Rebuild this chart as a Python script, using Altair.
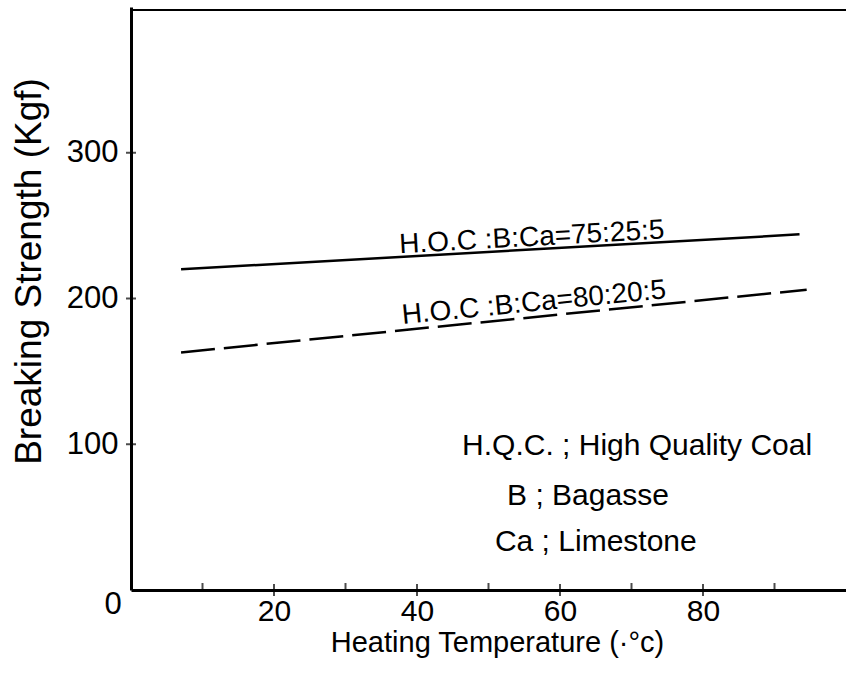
import altair as alt
import pandas as pd

# ---- data ----
temp_75 = [7, 93.5]
strength_75 = [220, 244]
temp_80 = [7, 94.5]
strength_80 = [163, 206]

x_major_ticks = [20, 40, 60, 80]
x_minor_ticks = [10, 30, 50, 70, 90]
y_ticks = [100, 200, 300]

label_75 = "H.O.C :B:Ca=75:25:5"
label_80 = "H.O.C :B:Ca=80:20:5"
label_75_at = [37.6, 231]
label_80_at = [38.0, 182.5]

legend_lines = ["H.Q.C. ; High Quality Coal", "B ; Bagasse", "Ca ; Limestone"]
legend_x = [46.3, 52.6, 50.9]
legend_y = [92.6, 58.3, 26.8]

FONT = "Liberation Sans"
X_DOM = [0, 100]
Y_DOM = [0, 400]

xs = alt.Scale(domain=X_DOM, nice=False, zero=False)
ys = alt.Scale(domain=Y_DOM, nice=False, zero=False)

df75 = pd.DataFrame({"t": temp_75, "s": strength_75})
df80 = pd.DataFrame({"t": temp_80, "s": strength_80})

x_axis = alt.Axis(
    values=x_major_ticks, ticks=False, tickSize=0, grid=False,
    domainColor="black", domainWidth=3, labelFont=FONT, labelFontSize=30,
    labelColor="black", labelPadding=6, title="Heating Temperature (·°c)",
    titleFont=FONT, titleFontSize=29, titleFontWeight="normal", titleColor="black",
    titleX=366, titleY=61, titleBaseline="alphabetic", titleAlign="center",
)
y_axis = alt.Axis(
    values=y_ticks, ticks=False, tickSize=0, grid=False,
    domainColor="black", domainWidth=3, labelFont=FONT, labelFontSize=31,
    labelColor="black", labelPadding=13, title="Breaking Strength (Kgf)",
    titleFont=FONT, titleFontSize=37, titleFontWeight="normal", titleColor="black",
    titleAngle=270, titleX=-91, titleY=264, titleBaseline="alphabetic", titleAlign="center",
)

solid = alt.Chart(df75).mark_line(color="black", strokeWidth=2.5).encode(
    x=alt.X("t:Q", scale=xs, axis=x_axis),
    y=alt.Y("s:Q", scale=ys, axis=y_axis),
)
dashed = alt.Chart(df80).mark_line(color="black", strokeWidth=2.5, strokeDash=[34, 9]).encode(
    x=alt.X("t:Q", scale=xs), y=alt.Y("s:Q", scale=ys)
)

# top border
top_df = pd.DataFrame({"t": [X_DOM[0]], "t2": [X_DOM[1]], "s": [398]})
top_rule = alt.Chart(top_df).mark_rule(color="black", strokeWidth=2).encode(
    x=alt.X("t:Q", scale=xs), x2="t2:Q", y=alt.Y("s:Q", scale=ys)
)

# ticks crossing the axes
xmaj = alt.Chart(pd.DataFrame({"t": x_major_ticks, "s": [0] * len(x_major_ticks)})).mark_tick(
    orient="vertical", color="black", size=12, thickness=2
).encode(x=alt.X("t:Q", scale=xs), y=alt.Y("s:Q", scale=ys))
xmin = alt.Chart(pd.DataFrame({"t": x_minor_ticks, "s": [0] * len(x_minor_ticks)})).mark_tick(
    orient="vertical", color="black", size=8, thickness=2, yOffset=-3
).encode(x=alt.X("t:Q", scale=xs), y=alt.Y("s:Q", scale=ys))
ytk = alt.Chart(pd.DataFrame({"t": [0] * len(y_ticks), "s": y_ticks})).mark_tick(
    orient="horizontal", color="black", size=10, thickness=2
).encode(x=alt.X("t:Q", scale=xs), y=alt.Y("s:Q", scale=ys))

zero_lbl = alt.Chart(pd.DataFrame({"t": [0], "s": [0], "txt": ["0"]})).mark_text(
    font=FONT, fontSize=31, color="black", align="center", baseline="middle", dx=-18, dy=15
).encode(x=alt.X("t:Q", scale=xs), y=alt.Y("s:Q", scale=ys), text="txt:N")

lbl75 = alt.Chart(pd.DataFrame({"t": [label_75_at[0]], "s": [label_75_at[1]], "txt": [label_75]})).mark_text(
    font=FONT, fontSize=28, color="black", align="left", baseline="alphabetic", angle=356.8
).encode(x=alt.X("t:Q", scale=xs), y=alt.Y("s:Q", scale=ys), text="txt:N")
lbl80 = alt.Chart(pd.DataFrame({"t": [label_80_at[0]], "s": [label_80_at[1]], "txt": [label_80]})).mark_text(
    font=FONT, fontSize=28, color="black", align="left", baseline="alphabetic", angle=354.4
).encode(x=alt.X("t:Q", scale=xs), y=alt.Y("s:Q", scale=ys), text="txt:N")

legend_df = pd.DataFrame({"t": legend_x, "s": legend_y, "txt": legend_lines})
legend = alt.Chart(legend_df).mark_text(
    font=FONT, fontSize=30, color="black", align="left", baseline="alphabetic"
).encode(x=alt.X("t:Q", scale=xs), y=alt.Y("s:Q", scale=ys), text="txt:N")

chart = alt.layer(
    solid, dashed, top_rule, xmaj, xmin, ytk, zero_lbl, lbl75, lbl80, legend
).properties(
    width=715, height=583,
    autosize=alt.AutoSizeParams(type="none"),
    padding={"left": 131, "top": 7, "right": 0, "bottom": 88},
    background="white",
).configure_view(stroke=None)

chart.save("out.html", embed_options={"renderer": "svg", "actions": False})
